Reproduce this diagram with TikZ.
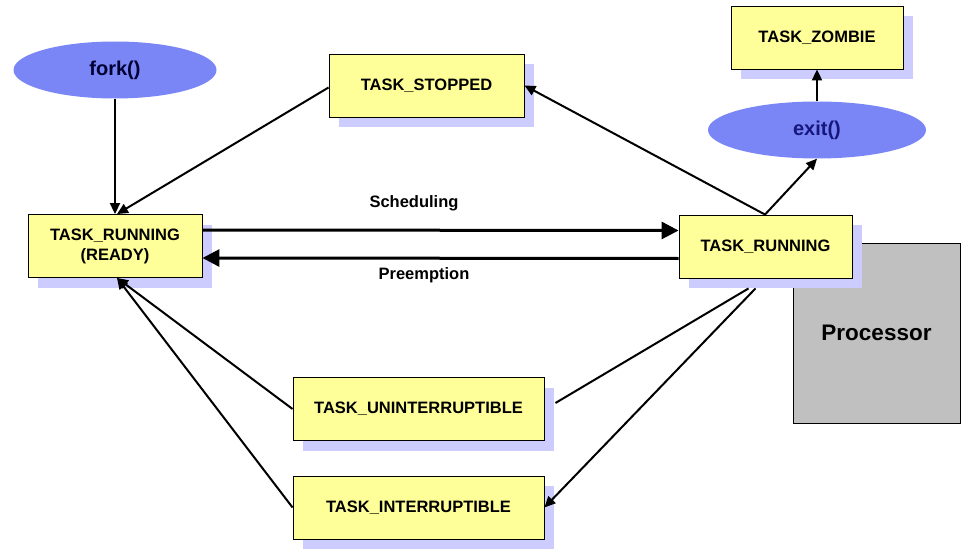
\documentclass[tikz,border=0pt]{standalone}
\usepackage{fontspec}
\setmainfont{Liberation Sans}
\usetikzlibrary{arrows.meta,shapes.geometric,shadows}

\definecolor{boxyellow}{RGB}{255,255,153}
\definecolor{shadowblue}{RGB}{204,204,255}
\definecolor{ovalblue}{RGB}{122,134,245}
\definecolor{exitnavy}{RGB}{22,22,125}
\definecolor{procgray}{RGB}{192,192,192}

\tikzset{
  state/.style={draw=black, line width=0.9pt, fill=boxyellow, inner sep=0pt,
    minimum height=63pt, align=center,
    font=\bfseries\fontsize{16.5}{20}\selectfont,
    drop shadow={shadow xshift=10pt, shadow yshift=-10pt, fill=shadowblue, opacity=1}},
  call/.style={ellipse, fill=ovalblue, inner sep=0pt, minimum height=57pt,
    font=\bfseries\fontsize{20}{22}\selectfont},
  lbl/.style={font=\bfseries\fontsize{16.5}{20}\selectfont},
  trans/.style={color=black, line width=2pt, -{Triangle[length=11pt,width=10pt]}},
  plain/.style={color=black, line width=2pt},
  sched/.style={color=black, line width=3pt, -{Triangle[length=17pt,width=17pt]}}
}

\begin{document}
\begin{tikzpicture}[x=1pt, y=-1pt]
  \useasboundingbox (0,0) rectangle (972,559);

  \node[state, minimum width=174pt] (ready) at (115,246) {TASK\_RUNNING\\(READY)};
  \node[state, minimum width=195pt] (stopped) at (426.5,85.5) {TASK\_STOPPED};
  \node[state, minimum width=172pt] (zombie) at (817,37.5) {TASK\_ZOMBIE};
  \node[draw=black, line width=0.9pt, fill=procgray, minimum width=167pt, minimum height=180pt,
    font=\bfseries\fontsize{22.5}{26}\selectfont] (proc) at (876.5,333) {Processor};
  \node[state, minimum width=173pt] (running) at (765.5,246.5) {TASK\_RUNNING};
  \node[state, minimum width=251pt] (unint) at (418.5,409) {TASK\_UNINTERRUPTIBLE};
  \node[state, minimum width=251pt] (int) at (418.5,507.5) {TASK\_INTERRUPTIBLE};

  \node[call, minimum width=203pt, text=black!80!blue] (fork) at (115,70) {fork()};
  \node[call, minimum width=218pt, text=exitnavy] (exit) at (817,130) {exit()};

  \node[lbl] (schedlbl) at (414,203) {Scheduling};
  \node[lbl] (preemlbl) at (424,275) {Preemption};

  % transitions
  \draw[trans] (fork) -- (ready.north);
  \draw[trans] ([yshift=-2pt]stopped.west) -- ([xshift=2pt]ready.north);
  \draw[trans] ([xshift=-0.5pt]running.north) -- (stopped.east);
  \draw[trans] ([xshift=-0.5pt]running.north) -- (exit.south);
  \draw[trans] (exit.north) -- (zombie.south);
  \draw[sched] ([yshift=16pt]ready.east) -- ([yshift=16pt]running.west);
  \draw[sched] ([yshift=-12pt]running.west) -- ([yshift=-12pt]ready.east);
  \draw[trans] (unint.west) -- ([xshift=2pt]ready.south);
  \draw[trans] (int.west) -- ([xshift=2pt]ready.south);
  \draw[plain] ([xshift=-17pt,yshift=-10pt]running.south) -- ([xshift=11pt,yshift=6pt]unint.east);
  \draw[trans] ([xshift=-10pt,yshift=-10pt]running.south) -- (int.east);
\end{tikzpicture}
\end{document}
